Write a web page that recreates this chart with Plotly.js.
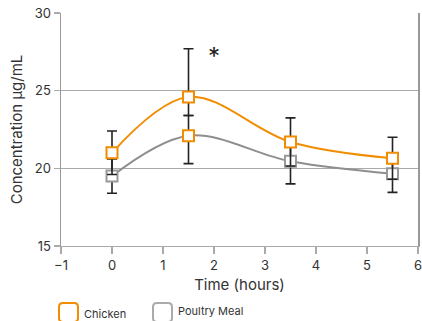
<!DOCTYPE html>
<html><head><meta charset="utf-8">
<script src="https://cdn.plot.ly/plotly-3.0.1.min.js"></script>
<style>html,body{margin:0;padding:0;background:#fff}#chart{width:422px;height:321px}</style>
</head><body><div id="chart"></div>
<script>
const times = [0, 1.5, 3.5, 5.5];
const chickenValues = [21.0, 24.6, 21.7, 20.65];
const chickenErrPlus = [1.4, 3.1, 1.55, 1.35];
const chickenErrMinus = [1.4, 1.2, 1.55, 1.35];
const poultryValues = [19.5, 22.1, 20.45, 19.65];
const poultryErrPlus = [1.1, 1.3, 1.45, 1.2];
const poultryErrMinus = [1.1, 1.8, 1.45, 1.2];
const poultryMarkerColors = ['#999999', '#f28c00', '#999999', '#999999'];
const seriesNames = ['Chicken', 'Poultry Meal'];
const yTicks = [15, 20, 25, 30];
const xTicks = [-1, 0, 1, 2, 3, 4, 5, 6];
const star = {x: 2, y: 27.2, text: '*'};

const orange = '#f28c00', gray = '#8e8e8e';
const W = 422, H = 321, M = {l: 61, r: 4, t: 13, b: 75};
const pw = W - M.l - M.r, ph = H - M.t - M.b;
const px = v => (v - M.l) / pw;
const py = v => (H - M.b - v) / ph;

const traces = [
  {x: times, y: poultryValues, name: seriesNames[1], type: 'scatter', mode: 'lines+markers', showlegend: false,
   line: {color: gray, width: 2, shape: 'spline', smoothing: 1},
   marker: {symbol: 'square', size: 11, color: '#fff', line: {color: poultryMarkerColors, width: 2}},
   error_y: {type: 'data', symmetric: false, array: poultryErrPlus, arrayminus: poultryErrMinus, color: '#222', thickness: 1.6, width: 5}},
  {x: times, y: chickenValues, name: seriesNames[0], type: 'scatter', mode: 'lines+markers', showlegend: false,
   line: {color: orange, width: 2, shape: 'spline', smoothing: 1},
   marker: {symbol: 'square', size: 11, color: '#fff', line: {color: orange, width: 2}},
   error_y: {type: 'data', symmetric: false, array: chickenErrPlus, arrayminus: chickenErrMinus, color: '#222', thickness: 1.6, width: 5}}
];

function roundRect(x0, y0, s, r) {
  const X = v => px(v), Y = v => py(v);
  const x1 = x0 + s, y1 = y0 + s;
  return `M${X(x0 + r)},${Y(y0)} L${X(x1 - r)},${Y(y0)} Q${X(x1)},${Y(y0)} ${X(x1)},${Y(y0 + r)} ` +
         `L${X(x1)},${Y(y1 - r)} Q${X(x1)},${Y(y1)} ${X(x1 - r)},${Y(y1)} L${X(x0 + r)},${Y(y1)} ` +
         `Q${X(x0)},${Y(y1)} ${X(x0)},${Y(y1 - r)} L${X(x0)},${Y(y0 + r)} Q${X(x0)},${Y(y0)} ${X(x0 + r)},${Y(y0)} Z`;
}
const legendItems = [
  {name: seriesNames[0], color: orange, bx: 59, tx: 82},
  {name: seriesNames[1], color: '#aaaaaa', bx: 153, tx: 176}
];
const shapes = legendItems.map(it => ({type: 'path', xref: 'paper', yref: 'paper', path: roundRect(it.bx, 303, 19, 4),
  line: {color: it.color, width: 2}, fillcolor: '#fff'}));

const font = {family: 'Inter, "Noto Sans", sans-serif', color: '#333'};
const annotations = [{x: star.x, y: star.y, text: star.text, showarrow: false, font: {size: 24, color: '#222'}}]
  .concat(legendItems.map((it, i) => ({xref: 'paper', yref: 'paper', x: px(it.tx), y: py(i === 0 ? 314 : 311),
    xanchor: 'left', yanchor: 'middle', text: it.name, showarrow: false, font: {size: 11, color: '#333'}})));

const layout = {
  width: W, height: H, margin: M,
  paper_bgcolor: '#fff', plot_bgcolor: '#fff',
  font: Object.assign({size: 13}, font),
  showlegend: false,
  xaxis: {range: [-1, 6], tickvals: xTicks, ticks: 'outside', ticklen: 7, tickcolor: '#aaa', tickwidth: 1.2,
          ticklabeloverflow: 'allow',
          showline: true, linecolor: '#aaa', linewidth: 1.2, showgrid: false, zeroline: false,
          tickfont: {size: 13}, title: {text: 'Time (hours)', font: {size: 15}, standoff: 7}},
  yaxis: {range: [15, 30], tickvals: yTicks, ticks: 'outside', ticklen: 6, tickcolor: '#aaa', tickwidth: 1.2,
          showline: true, mirror: true, linecolor: '#999', linewidth: 1.5, showgrid: true, gridcolor: '#aaa', gridwidth: 1.2,
          zeroline: false, tickfont: {size: 13}, title: {text: 'Concentration μg/mL', font: {size: 15}, standoff: 8}},
  shapes: shapes,
  annotations: annotations
};
Plotly.newPlot('chart', traces, layout, {staticPlot: true, displayModeBar: false});
</script></body></html>
